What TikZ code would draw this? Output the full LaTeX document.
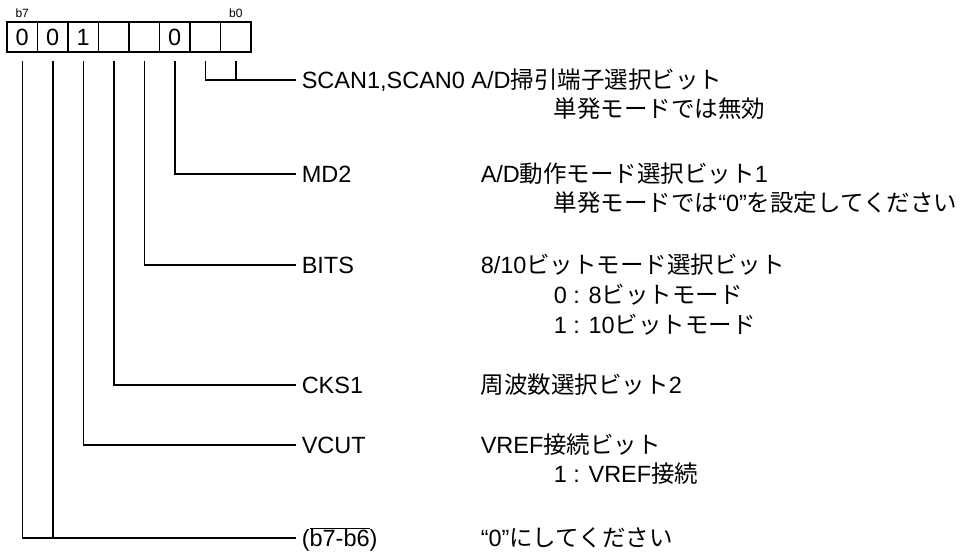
\documentclass[tikz,border=0pt]{standalone}
\usepackage{fontspec}
\setmainfont{Liberation Sans}
\newfontfamily\ja{Noto Sans CJK JP}
\tikzset{
  bitcell/.style={draw, line width=1.5pt, minimum width=30.5pt, minimum height=30pt, inner sep=0pt, font=\fontsize{23.5}{28}\selectfont},
  bitno/.style={anchor=base, inner sep=0pt, font=\fontsize{12}{14}\selectfont},
  lbl/.style={anchor=west, inner xsep=5pt, inner ysep=0pt, text height=16.8pt, text depth=0pt, font=\fontsize{23.5}{28}\selectfont},
}
\begin{document}
\begin{tikzpicture}[x=1pt,y=-1pt,line width=1.5pt]
\useasboundingbox (0,0) rectangle (974,554);
\foreach \v [count=\i from 0] in {0,0,1,{},{},0,{},{}}{
  \pgfmathtruncatemacro\b{7-\i}
  \node[bitcell] (bit\b) at ({22.25+30.5*\i},37) {\v};
}
\node[bitno] (l7) at ([yshift=4pt]bit7.north) {b7};
\node[bitno] (l0) at ([yshift=4pt]bit0.north) {b0};

\node[lbl] (scan) at (296,80) {SCAN1,SCAN0 A/D{\ja 掃引端子選択ビット}};
\node[lbl] (scan2) at (548,109) {\ja 単発モードでは無効};

\node[lbl] (md2) at (296,174) {MD2};
\node[lbl] (md2d) at (475,174) {A/D{\ja 動作モード選択ビット}1};
\node[lbl] (md2e) at (548,203) {{\ja 単発モードでは}“0”{\ja を設定してください}};

\node[lbl] (bits) at (296,265) {BITS};
\node[lbl] (bitsd) at (475,265) {8/10{\ja ビットモード選択ビット}};
\node[lbl] (bitse) at (548,295) {0 : 8{\ja ビットモード}};
\node[lbl] (bitsf) at (548,325) {1 : 10{\ja ビットモード}};

\node[lbl] (cks) at (296,385) {CKS1};
\node[lbl] (cksd) at (475,385) {{\ja 周波数選択ビット}2};

\node[lbl] (vcut) at (296,445) {VCUT};
\node[lbl] (vcutd) at (475,445) {VREF{\ja 接続ビット}};
\node[lbl] (vcute) at (548,474) {1 : VREF{\ja 接続}};

\node[lbl] (rsv) at (296,538) {(\(\overline{\mbox{b7-b6}}\))};
\node[lbl] (rsvd) at (475,538) {“0”{\ja にしてください}};

\draw ([yshift=-8pt]bit1.south) |- (scan.west);
\draw ([yshift=-8pt]bit0.south) -- (bit0 |- scan.west);
\draw ([yshift=-8pt]bit2.south) |- (md2.west);
\draw ([yshift=-8pt]bit3.south) |- (bits.west);
\draw ([yshift=-8pt]bit4.south) |- (cks.west);
\draw ([yshift=-8pt]bit5.south) |- (vcut.west);
\draw ([yshift=-8pt]bit7.south) |- (rsv.west);
\draw ([yshift=-8pt]bit6.south) -- (bit6 |- rsv.west);
\end{tikzpicture}
\end{document}
